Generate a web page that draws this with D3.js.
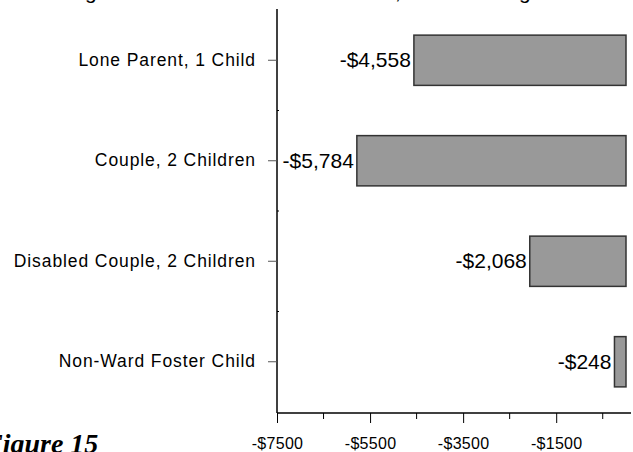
<!DOCTYPE html>
<html>
<head>
<meta charset="utf-8">
<script src="https://cdn.jsdelivr.net/npm/d3@7"></script>
<style>
  body { margin: 0; background: #fff; }
  svg { display: block; }
  text { font-family: "Liberation Sans", Arial, sans-serif; fill: #000; }
</style>
</head>
<body>
<div id="chart"></div>
<script>
// data
var categories = ["Lone Parent, 1 Child", "Couple, 2 Children", "Disabled Couple, 2 Children", "Non-Ward Foster Child"];
var values = [-4558, -5784, -2068, -248];
var majorTicks = [-7500, -5500, -3500, -1500];
var minorTicks = [-6500, -4500, -2500, -500];
var titleText = "Change in Total Household Income, Loss through Reform";
var figureText = "Figure 15";

var width = 633, height = 452;
var plot = { left: 277, right: 626, top: 10, bottom: 412 };

var svg = d3.select("#chart").append("svg")
  .attr("width", width)
  .attr("height", height);

// scales
var xScale = d3.scaleLinear().domain([-7500, 0]).range([plot.left, plot.right]);
var yScale = d3.scaleBand().domain(categories).range([plot.top, plot.bottom]).paddingInner(0.5).paddingOuter(0.25);
var yStep = yScale.step();

// title, clipped at the top of the page
svg.append("text")
  .attr("x", 30)
  .attr("y", -1)
  .style("font-size", "21px")
  .style("letter-spacing", "1.2px")
  .text(titleText);

// bars
svg.append("g").selectAll("rect")
  .data(values)
  .enter().append("rect")
  .attr("x", function(d) { return xScale(d); })
  .attr("y", function(d, i) { return yScale(categories[i]); })
  .attr("width", function(d) { return xScale(0) - xScale(d); })
  .attr("height", yScale.bandwidth())
  .attr("fill", "#999999")
  .attr("stroke", "#333333")
  .attr("stroke-width", 1.5);

// value labels
svg.append("g").selectAll("text")
  .data(values)
  .enter().append("text")
  .attr("x", function(d) { return xScale(d) - 3; })
  .attr("y", function(d, i) { return yScale(categories[i]) + yScale.bandwidth() / 2 + 7; })
  .attr("text-anchor", "end")
  .style("font-size", "21px")
  .text(function(d) { return "-$" + d3.format(",")(-d); });

// x axis: labelled major ticks plus short unlabelled ones
var xAxisG = svg.append("g").attr("transform", "translate(0," + (plot.bottom + 1) + ")");
xAxisG.call(d3.axisBottom(xScale)
  .tickValues(majorTicks)
  .tickSize(10)
  .tickPadding(15)
  .tickFormat(function(d) { return "-$" + (-d); }));
xAxisG.selectAll(".minor")
  .data(minorTicks)
  .enter().append("line")
  .attr("class", "minor")
  .attr("x1", function(d) { return xScale(d); })
  .attr("x2", function(d) { return xScale(d); })
  .attr("y1", 0).attr("y2", 6)
  .attr("stroke", "#000");
xAxisG.select(".domain").attr("d", "M" + plot.left + ",0H" + (plot.right + 5)).attr("stroke-width", 1.5);
xAxisG.selectAll(".tick line").attr("stroke", "#000");
xAxisG.selectAll(".tick text")
  .style("font-size", "16px")
  .style("font-family", "'Liberation Sans', Arial, sans-serif")
  .style("letter-spacing", "0.3px");

// y axis: category ticks to the left, small marks between bands
var yAxisG = svg.append("g").attr("transform", "translate(" + plot.left + ",0)");
yAxisG.call(d3.axisLeft(yScale).tickSize(9).tickPadding(12));
yAxisG.select(".domain").attr("d", "M0," + (plot.top - 1) + "V" + (plot.bottom + 1)).attr("stroke-width", 1.5);
yAxisG.selectAll(".tick line").attr("stroke", "#555");
yAxisG.selectAll(".tick text")
  .style("font-size", "17.5px")
  .style("font-family", "'Liberation Sans', Arial, sans-serif")
  .style("letter-spacing", "0.9px");
yAxisG.selectAll(".between")
  .data(categories.slice(1))
  .enter().append("line")
  .attr("class", "between")
  .attr("x1", 0).attr("x2", 2)
  .attr("y1", function(d) { return yScale(d) - yStep * 0.25; })
  .attr("y2", function(d) { return yScale(d) - yStep * 0.25; })
  .attr("stroke", "#000");

// figure caption, cut off at the left and bottom
svg.append("text")
  .attr("x", -16)
  .attr("y", 453)
  .style("font-family", "'Liberation Serif', 'Times New Roman', serif")
  .style("font-weight", "bold")
  .style("font-style", "italic")
  .style("font-size", "28px")
  .text(figureText);
</script>
</body>
</html>
